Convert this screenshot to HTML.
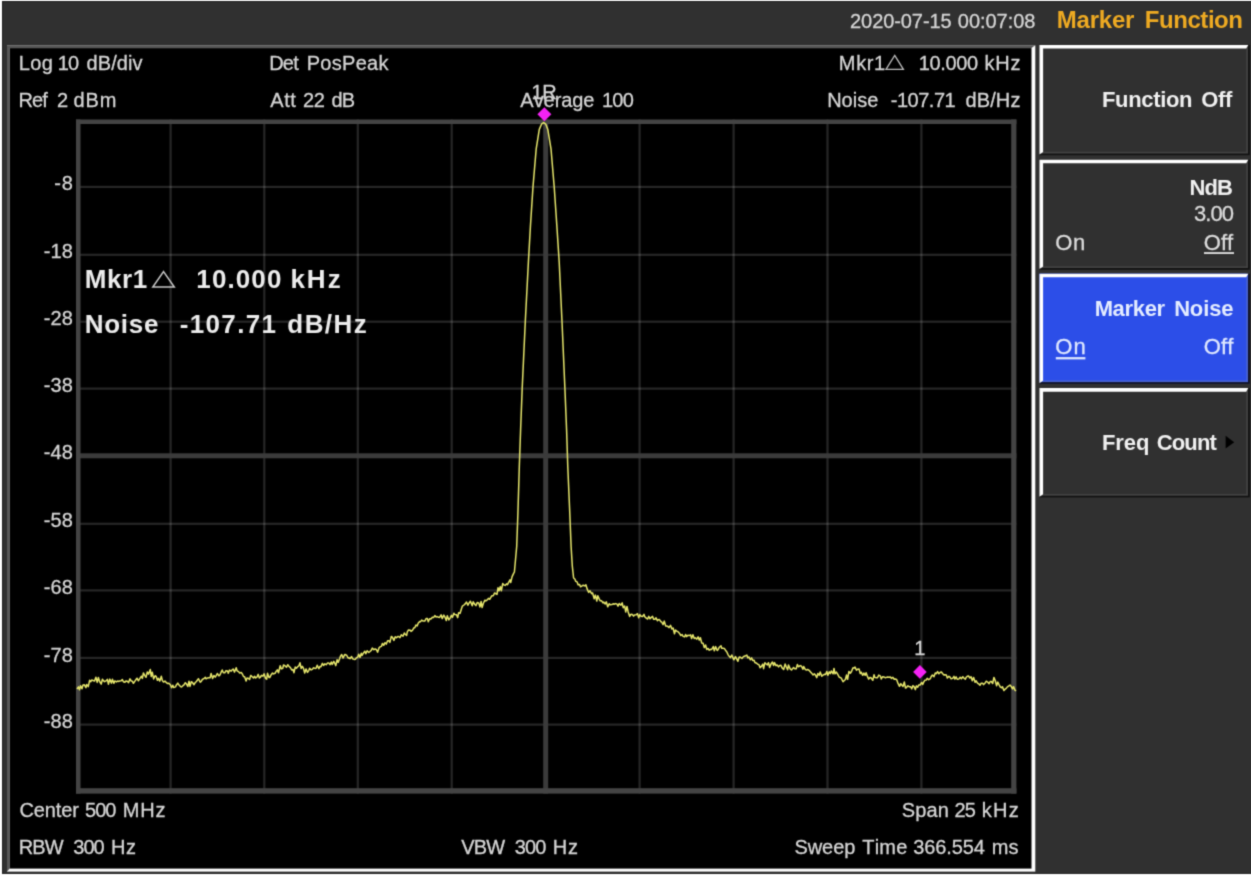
<!DOCTYPE html>
<html><head><meta charset="utf-8"><title>Spectrum Analyzer</title>
<style>
html,body{margin:0;padding:0;}
.t{position:absolute;white-space:pre;font-kerning:none;-webkit-text-stroke:0.3px;}
.b{font-weight:bold;-webkit-text-stroke:0;}
body{width:1251px;height:876px;position:relative;overflow:hidden;background:#fff;font-family:"Liberation Sans",sans-serif;}
#wrap{position:absolute;left:-10px;top:-10px;width:1271px;height:896px;filter:url(#soft);}
#in{position:absolute;left:10px;top:10px;width:1251px;height:876px;}
</style></head><body>
<svg width="0" height="0" style="position:absolute"><filter id="soft" x="0" y="0" width="100%" height="100%" color-interpolation-filters="sRGB"><feConvolveMatrix order="3" kernelMatrix="0.02768 0.11101 0.02768 0.11101 0.44521 0.11101 0.02768 0.11101 0.02768" edgeMode="duplicate" preserveAlpha="true"/></filter></svg>
<div id="wrap"><div id="in">
<svg width="1271" height="896" viewBox="-10 -10 1271 896" style="position:absolute;left:-10px;top:-10px">
<rect x="-10" y="-10" width="1271" height="896" fill="#ffffff"/>
<rect x="2" y="1" width="1259" height="873" fill="#212121"/>
<rect x="3" y="2" width="1258" height="871.6" fill="#303030"/>
<rect x="7.0" y="45.3" width="1028.3" height="826.3000000000001" fill="#ffffff"/>
<path d="M7.0 45.3 H1035.3 L1031.5 48.099999999999994 H9.8 V868.6 L7.0 871.6 Z" fill="#565656"/>
<rect x="9.8" y="48.099999999999994" width="1021.7" height="820.5000000000001" fill="#000000"/>
<rect x="169.5" y="119.5" width="2.2" height="674.1" fill="rgba(255,255,255,0.148)"/>
<rect x="263.2" y="119.5" width="2.2" height="674.1" fill="rgba(255,255,255,0.148)"/>
<rect x="356.7" y="119.5" width="2.2" height="674.1" fill="rgba(255,255,255,0.148)"/>
<rect x="450.59999999999997" y="119.5" width="2.2" height="674.1" fill="rgba(255,255,255,0.148)"/>
<rect x="638.5" y="119.5" width="2.2" height="674.1" fill="rgba(255,255,255,0.148)"/>
<rect x="732.5" y="119.5" width="2.2" height="674.1" fill="rgba(255,255,255,0.148)"/>
<rect x="826.4" y="119.5" width="2.2" height="674.1" fill="rgba(255,255,255,0.148)"/>
<rect x="920.3" y="119.5" width="2.2" height="674.1" fill="rgba(255,255,255,0.148)"/>
<rect x="76.0" y="185.8" width="940.4" height="2.2" fill="rgba(255,255,255,0.148)"/>
<rect x="76.0" y="253.70000000000002" width="940.4" height="2.2" fill="rgba(255,255,255,0.148)"/>
<rect x="76.0" y="320.59999999999997" width="940.4" height="2.2" fill="rgba(255,255,255,0.148)"/>
<rect x="76.0" y="387.5" width="940.4" height="2.2" fill="rgba(255,255,255,0.148)"/>
<rect x="76.0" y="522.6999999999999" width="940.4" height="2.2" fill="rgba(255,255,255,0.148)"/>
<rect x="76.0" y="589.3" width="940.4" height="2.2" fill="rgba(255,255,255,0.148)"/>
<rect x="76.0" y="656.8" width="940.4" height="2.2" fill="rgba(255,255,255,0.148)"/>
<rect x="76.0" y="723.5" width="940.4" height="2.2" fill="rgba(255,255,255,0.148)"/>
<rect x="543.2" y="119.5" width="5" height="674.1" fill="#3b3b3b"/>
<rect x="76.0" y="453.3" width="940.4" height="5" fill="#3b3b3b"/>
<rect x="76.0" y="119.5" width="940.4" height="4.5" fill="#444444"/>
<rect x="76.0" y="788.2" width="940.4" height="5.4" fill="#444444"/>
<rect x="76.0" y="119.5" width="4.5" height="674.1" fill="#444444"/>
<rect x="1011.1999999999999" y="119.5" width="5.2" height="674.1" fill="#444444"/>
<polyline points="77.0,689.0 78.5,686.9 79.5,689.7 80.6,685.8 82.0,688.7 83.0,684.9 84.4,684.8 85.9,687.7 86.7,684.5 88.3,686.6 89.6,680.3 90.8,681.7 91.7,680.0 93.0,680.5 94.5,681.0 95.9,677.2 97.2,682.4 98.4,677.4 99.6,681.5 101.2,684.1 102.4,679.2 103.4,680.7 104.6,681.7 106.4,680.6 107.4,679.4 108.4,684.2 109.8,679.1 111.5,683.1 112.4,679.3 113.9,683.3 114.8,680.9 116.5,681.9 117.6,681.0 118.4,681.4 119.6,681.1 121.2,680.7 122.3,679.6 123.4,681.7 124.9,682.3 125.9,680.9 127.2,681.2 128.5,682.6 130.0,678.9 131.3,681.0 132.4,681.3 133.4,683.3 134.6,681.6 135.9,679.7 137.0,678.2 138.4,680.8 139.9,678.4 141.4,676.2 142.4,678.4 143.4,672.9 144.7,675.3 146.0,677.3 147.3,671.9 148.5,674.2 150.3,669.4 151.2,676.5 152.3,672.2 153.6,678.9 155.1,675.7 156.3,676.7 157.4,680.3 158.5,678.4 159.8,681.1 161.3,676.3 162.4,680.6 163.5,682.0 165.0,681.1 166.2,682.4 167.6,683.6 168.8,683.3 170.4,684.8 171.6,687.7 172.8,685.2 173.7,687.6 175.5,686.9 176.2,685.3 177.8,683.1 178.8,684.8 180.5,686.6 181.5,687.0 182.9,685.7 184.0,684.8 185.3,682.7 186.5,684.1 187.8,686.5 189.0,681.2 190.0,686.4 191.3,681.7 192.6,682.7 194.0,684.7 195.2,682.6 196.4,681.5 197.5,680.0 198.5,678.7 200.2,682.3 201.2,681.4 202.3,679.5 203.8,678.7 205.3,677.3 206.1,678.8 207.6,677.9 209.0,677.7 210.1,677.8 211.1,673.4 212.6,678.5 213.9,675.6 215.2,677.1 216.2,675.6 217.3,673.5 218.9,675.9 220.1,674.7 221.0,672.4 222.2,670.0 223.4,672.8 224.8,672.8 226.0,670.7 227.5,670.9 228.3,673.2 229.5,670.1 231.2,671.1 232.3,669.6 233.2,669.0 234.5,672.1 236.2,667.7 237.1,670.8 238.6,671.6 239.7,673.1 241.2,672.4 242.5,674.2 243.5,676.5 244.6,676.8 246.1,681.0 247.0,678.1 248.5,678.4 249.6,679.5 250.7,675.4 252.2,676.7 253.5,678.0 254.5,676.3 255.7,678.0 257.0,677.0 258.2,674.4 259.4,678.0 260.5,677.1 261.4,675.4 262.9,676.2 264.1,673.8 265.5,678.3 266.7,679.2 267.5,673.3 269.0,677.5 269.7,677.6 271.2,674.7 272.5,673.0 273.5,673.9 275.2,673.2 276.1,671.4 277.3,669.9 278.5,672.7 280.2,665.7 281.4,668.9 282.8,668.3 283.5,665.0 284.9,665.7 286.4,667.3 287.8,664.7 288.9,666.3 290.4,667.6 291.7,670.0 293.0,669.5 294.0,672.7 295.2,667.1 296.4,668.2 297.9,666.6 298.8,665.9 300.0,662.8 301.2,668.5 302.4,666.4 303.5,668.4 304.7,673.1 306.0,668.9 307.5,672.4 308.8,670.6 309.6,668.2 311.2,669.9 312.5,669.2 313.4,667.8 315.0,668.4 316.1,668.2 317.2,665.3 318.9,668.6 319.9,666.5 321.0,666.8 322.4,663.4 323.6,665.5 324.7,663.8 326.2,664.7 327.6,662.9 328.7,662.9 330.0,664.6 331.3,662.0 332.2,664.4 333.8,661.3 335.0,663.8 335.8,665.6 337.1,659.7 338.2,662.4 339.8,658.2 340.6,655.9 341.7,654.6 343.0,658.1 344.7,654.6 345.4,654.6 346.8,655.5 348.1,658.0 349.0,657.8 350.1,658.6 351.6,656.5 352.6,658.8 354.2,659.4 355.5,659.2 356.1,658.1 357.9,656.8 358.7,654.3 360.0,657.4 361.3,653.3 362.1,655.4 363.4,653.1 364.8,651.2 365.8,653.7 367.1,650.8 368.8,652.5 370.0,651.5 371.2,650.4 372.3,648.1 373.9,649.7 375.1,649.0 376.3,649.5 377.6,652.2 379.0,647.9 380.2,646.8 381.4,646.4 382.4,643.5 383.7,645.3 385.0,642.7 386.3,644.1 387.6,640.8 388.8,640.7 389.9,642.4 391.3,636.4 392.5,637.4 393.9,640.4 395.2,636.7 396.4,637.8 397.8,636.6 398.6,636.5 400.0,637.6 401.3,634.7 403.0,636.2 404.3,633.0 405.2,634.3 406.6,635.5 407.3,631.8 408.5,630.0 410.3,630.2 411.0,631.4 412.4,630.4 413.9,627.8 414.8,627.7 415.9,625.0 417.1,626.0 418.3,623.0 419.7,621.6 420.6,621.7 421.7,620.1 423.2,621.1 424.8,621.1 426.1,618.6 427.4,618.6 428.3,621.7 429.6,618.8 430.9,619.1 432.4,617.3 433.7,617.4 434.9,615.6 436.1,617.0 437.2,616.6 438.6,617.3 439.6,617.4 441.1,614.8 442.2,618.6 443.8,615.1 444.9,616.9 446.3,620.6 447.3,615.7 448.9,619.9 450.1,618.1 451.4,615.4 452.5,617.3 453.9,613.3 454.8,614.6 456.5,614.7 457.7,617.6 458.6,612.8 460.0,613.4 461.4,609.0 462.4,606.1 464.0,605.0 465.4,603.6 466.5,602.0 467.9,605.2 469.1,603.0 470.4,601.2 472.2,605.7 473.2,601.8 474.9,604.5 475.9,605.6 477.2,602.6 478.7,602.9 480.0,606.9 481.1,601.4 482.1,607.6 483.3,603.5 484.9,600.2 485.9,600.9 487.0,600.1 488.5,598.4 489.7,599.3 490.9,597.2 491.9,595.8 493.3,595.8 494.5,593.0 495.6,593.5 497.0,594.4 498.0,587.8 499.1,590.8 500.3,586.6 501.4,590.7 502.7,583.6 503.9,584.9 505.1,585.4 506.5,583.9 507.5,584.7 508.5,582.7 510.0,579.9 510.7,582.5 512.1,576.6 513.5,573.6 514.4,572.0 516.7,546.5 517.9,513.5 519.3,467.0 520.6,430.0 522.2,388.4 525.3,321.5 528.4,262.0 530.5,225.0 533.0,186.7 536.2,148.8 539.3,129.4 541.5,124.2 543.6,122.6 545.8,124.2 547.8,129.4 551.0,148.8 554.2,186.7 556.8,225.0 559.2,262.0 562.0,321.5 564.9,388.4 566.6,430.0 567.8,467.0 569.8,513.5 571.1,546.5 572.3,566.0 573.6,578.0 574.8,579.0 575.8,581.4 577.1,581.9 578.1,584.8 579.6,584.5 580.5,586.8 582.1,585.9 583.2,585.2 584.8,585.9 585.9,584.7 587.2,589.1 588.7,592.4 590.0,590.8 591.6,593.6 592.6,593.0 594.2,598.8 595.4,595.1 596.8,601.0 597.8,595.7 599.2,598.9 600.2,600.8 601.6,600.8 603.0,602.9 603.8,602.1 605.2,604.0 606.3,601.8 607.7,606.8 609.3,603.7 610.2,604.7 611.8,604.5 613.2,603.8 614.1,604.2 615.4,603.6 616.9,604.0 618.0,606.1 619.2,603.5 620.9,605.2 622.2,602.9 623.2,607.7 624.7,606.0 625.7,612.0 627.0,606.4 628.1,611.7 629.7,616.4 630.7,614.4 631.9,614.2 633.6,616.1 634.4,615.0 636.0,614.8 637.5,613.7 638.7,617.7 639.9,614.6 641.1,616.2 642.5,616.5 644.0,614.3 644.7,616.6 646.3,618.2 647.6,619.0 648.8,616.4 650.0,618.8 650.8,617.9 652.6,616.4 653.6,619.2 654.9,619.2 656.0,617.8 657.4,620.7 658.2,619.7 659.4,619.6 661.0,621.8 661.7,622.0 663.1,624.6 664.3,621.1 665.7,626.1 666.8,626.0 668.3,626.7 669.0,627.6 670.5,625.4 671.9,628.9 673.1,628.0 674.5,633.7 675.5,630.0 676.8,631.1 678.2,631.9 679.4,633.2 680.8,635.5 682.1,634.5 683.1,636.4 684.6,636.9 685.6,634.5 686.7,636.6 687.9,635.3 689.2,635.6 690.6,634.8 691.6,638.5 692.9,634.8 694.3,638.5 695.3,637.8 696.8,639.1 698.1,636.8 699.2,640.1 700.4,637.7 701.7,643.0 703.1,643.3 704.3,647.6 705.6,645.0 706.7,649.4 708.1,648.5 709.3,650.2 710.7,649.3 711.6,649.5 713.3,646.5 714.3,650.8 715.6,646.6 717.2,650.5 718.2,649.4 719.3,647.2 721.0,645.7 721.7,648.2 723.0,648.3 724.3,648.4 725.9,650.9 726.6,651.5 728.3,655.1 729.2,656.2 730.4,657.6 731.8,655.0 733.1,658.1 733.8,659.8 735.5,656.6 736.4,658.4 737.9,661.3 739.1,657.3 740.1,657.0 741.9,658.5 743.2,656.9 744.3,656.2 745.6,655.7 746.9,655.1 747.7,657.8 749.0,657.0 750.3,659.8 751.6,657.9 752.7,660.5 754.1,660.2 754.9,662.5 756.7,663.3 757.7,664.2 758.9,664.6 760.1,667.7 761.2,666.6 762.8,664.1 763.6,668.7 764.9,662.7 766.2,664.0 767.4,664.9 768.5,662.7 769.6,667.4 771.2,663.6 772.4,662.0 773.6,665.4 774.5,662.6 776.0,665.7 777.2,665.0 778.6,666.9 779.7,665.4 780.9,665.3 782.1,667.9 783.7,669.5 785.1,664.1 786.0,666.3 787.6,669.8 788.5,665.0 790.2,668.9 791.5,670.0 792.2,669.1 793.6,667.6 794.7,668.8 796.2,668.8 797.4,664.5 798.5,666.8 800.2,665.6 801.5,666.2 802.9,669.2 803.7,666.5 805.4,669.6 806.6,670.1 807.6,669.5 809.2,670.4 810.6,672.1 811.4,672.9 813.1,675.0 814.3,673.9 815.3,674.8 816.8,677.7 817.8,673.4 819.2,675.4 820.2,672.0 821.8,676.2 822.7,675.3 824.3,674.3 825.6,674.6 826.8,671.4 827.9,675.2 829.3,671.9 830.4,673.6 831.3,670.9 833.1,673.8 834.0,668.4 835.0,673.8 836.4,672.0 837.9,674.6 839.2,677.1 840.1,677.5 841.3,678.1 843.0,681.8 844.0,680.7 845.4,679.5 846.5,675.1 847.6,679.3 848.9,671.4 850.3,673.2 851.5,671.5 853.0,667.8 854.3,667.9 855.0,667.1 856.5,670.3 857.5,669.2 859.1,669.1 860.3,673.5 861.2,672.2 862.7,675.3 863.9,673.1 865.2,675.3 866.1,672.8 867.3,676.1 868.7,679.1 870.0,677.5 871.0,677.8 872.8,680.3 874.0,674.8 874.9,677.4 876.1,677.8 877.5,677.7 878.8,675.1 880.2,675.8 881.3,679.0 882.6,676.7 884.2,677.0 885.4,677.8 886.4,677.4 887.6,677.0 889.0,677.3 890.4,677.1 891.5,678.4 892.9,677.4 894.2,679.2 895.1,679.0 896.6,679.4 897.7,682.6 899.5,686.3 900.8,683.6 902.0,685.2 903.0,686.4 904.3,682.0 905.5,688.0 906.5,687.5 907.9,685.8 909.1,686.7 910.5,686.7 911.8,688.9 912.8,685.7 913.9,686.4 915.4,689.6 916.3,685.9 917.7,687.2 918.8,684.9 920.1,685.0 921.7,682.5 922.7,684.5 923.8,681.9 924.8,680.3 926.2,680.1 927.2,678.3 928.7,679.7 930.3,678.7 931.2,676.5 932.4,675.0 934.0,676.6 935.3,672.9 936.3,673.6 937.6,671.6 938.9,673.8 940.4,672.3 941.4,671.9 942.5,673.5 943.9,674.9 944.8,674.8 946.4,675.1 947.3,678.1 948.9,676.3 950.1,677.2 951.1,678.8 952.6,678.4 954.0,676.4 954.8,679.1 956.1,676.9 957.2,679.2 958.8,679.1 960.2,677.3 961.4,678.8 962.8,676.7 963.8,678.0 965.3,679.2 966.3,677.2 967.3,676.3 968.5,676.0 969.9,678.0 971.1,676.7 972.3,680.7 973.6,677.5 975.1,682.2 976.2,680.8 977.5,683.1 978.9,684.0 980.0,685.3 981.2,683.2 982.5,683.3 983.6,684.6 985.1,683.0 986.3,681.2 987.5,682.0 989.1,683.6 990.2,681.5 991.3,681.5 992.7,683.5 993.9,677.4 995.3,680.8 996.6,685.8 997.8,682.1 998.9,684.3 1000.4,687.1 1001.7,687.7 1002.5,686.7 1003.9,690.6 1005.1,689.2 1006.2,688.4 1007.4,686.9 1008.5,686.2 1010.0,685.1 1011.2,686.4 1012.5,688.9 1013.6,686.7 1015.0,690.2 1016.0,691.0" fill="none" stroke="#e6e66c" stroke-width="1.5" stroke-linejoin="round"/>
<path d="M544.4 107.2 L551.4 114.2 L544.4 121.2 L537.4 114.2 Z" fill="#f322f3"/>
<path d="M919.9 665.1 L926.6999999999999 671.9 L919.9 678.6999999999999 L913.1 671.9 Z" fill="#f322f3"/>
<rect x="1039.5" y="44.9" width="210.29999999999995" height="110.29999999999998" fill="#121212"/>
<rect x="1039.5" y="44.9" width="208.5" height="108.6" fill="#424242"/>
<rect x="1039.5" y="44.9" width="206.70000000000005" height="106.89999999999998" fill="#303030"/>
<path d="M1039.5 44.9 H1248.3 L1246.2 48.5 H1043.1 V152.0 L1039.5 154.6 Z" fill="#ffffff"/>
<rect x="1039.5" y="159.7" width="210.29999999999995" height="110.0" fill="#121212"/>
<rect x="1039.5" y="159.7" width="208.5" height="108.30000000000001" fill="#424242"/>
<rect x="1039.5" y="159.7" width="206.70000000000005" height="106.60000000000002" fill="#303030"/>
<path d="M1039.5 159.7 H1248.3 L1246.2 163.29999999999998 H1043.1 V266.5 L1039.5 269.09999999999997 Z" fill="#ffffff"/>
<rect x="1039.5" y="273.7" width="210.29999999999995" height="110.10000000000002" fill="#10122a"/>
<rect x="1039.5" y="273.7" width="208.5" height="108.40000000000003" fill="#4862d0"/>
<rect x="1039.5" y="273.7" width="206.70000000000005" height="106.70000000000005" fill="#2c4ee8"/>
<path d="M1039.5 273.7 H1248.3 L1246.2 277.3 H1043.1 V380.6 L1039.5 383.2 Z" fill="#ffffff"/>
<rect x="1039.5" y="388.1" width="210.29999999999995" height="109.29999999999995" fill="#121212"/>
<rect x="1039.5" y="388.1" width="208.5" height="107.59999999999997" fill="#424242"/>
<rect x="1039.5" y="388.1" width="206.70000000000005" height="105.89999999999998" fill="#303030"/>
<path d="M1039.5 388.1 H1248.3 L1246.2 391.70000000000005 H1043.1 V494.2 L1039.5 496.79999999999995 Z" fill="#ffffff"/>
<path d="M1225.6 435.8 L1234.2 442.2 L1225.6 448.6 Z" fill="#000"/>
<path d="M894.7 55.4 L903.4 69.3 L886.0 69.3 Z" fill="none" stroke="#bdbdbd" stroke-width="1.3" stroke-linejoin="miter"/>
<path d="M163.55 271.6 L174.3 287.0 L152.8 287.0 Z" fill="none" stroke="#c8c8c8" stroke-width="1.5" stroke-linejoin="miter"/>
</svg>
<svg width="1251" height="876" viewBox="0 0 1251 876" style="position:absolute;left:0;top:0;pointer-events:none">
<rect x="1204.0" y="252.1" width="30" height="1.9" fill="#dcdcdc"/>
<rect x="1055.8" y="357.1" width="29.6" height="2.3" fill="#dfe8ff"/>
</svg>
<div style="position:absolute;left:0;top:0;width:1251px;height:876px;">
<div class="t" style="top:11px;left:850.09px;font-size:20px;line-height:20px;color:#d6d6d6;letter-spacing:-0.084px;">2020-07-15</div>
<div class="t" style="top:11px;left:957.82px;font-size:20px;line-height:20px;color:#d6d6d6;letter-spacing:-0.043px;">00:07:08</div>
<div class="t b" style="top:8px;left:1056.69px;font-size:24px;line-height:24px;color:#eeaa22;letter-spacing:-0.189px;">Marker</div>
<div class="t b" style="top:8px;left:1144.79px;font-size:24px;line-height:24px;color:#eeaa22;letter-spacing:-0.445px;">Function</div>
<div class="t" style="top:53px;left:18.76px;font-size:20px;line-height:20px;color:#d6d6d6;letter-spacing:0.380px;">Log</div>
<div class="t" style="top:53px;left:57.76px;font-size:20px;line-height:20px;color:#d6d6d6;letter-spacing:-0.900px;">10</div>
<div class="t" style="top:53px;left:86.56px;font-size:20px;line-height:20px;color:#d6d6d6;letter-spacing:0.084px;">dB/div</div>
<div class="t" style="top:90px;left:18.50px;font-size:20px;line-height:20px;color:#d6d6d6;letter-spacing:-0.900px;">Ref</div>
<div class="t" style="top:90px;left:56.99px;font-size:20px;line-height:20px;color:#d6d6d6;letter-spacing:0.000px;">2</div>
<div class="t" style="top:90px;left:73.56px;font-size:20px;line-height:20px;color:#d6d6d6;letter-spacing:0.868px;">dBm</div>
<div class="t" style="top:53px;left:269.16px;font-size:20px;line-height:20px;color:#d6d6d6;letter-spacing:-0.768px;">Det</div>
<div class="t" style="top:53px;left:306.76px;font-size:20px;line-height:20px;color:#d6d6d6;letter-spacing:0.277px;">PosPeak</div>
<div class="t" style="top:90px;left:270.36px;font-size:20px;line-height:20px;color:#d6d6d6;letter-spacing:0.466px;">Att</div>
<div class="t" style="top:90px;left:302.99px;font-size:20px;line-height:20px;color:#d6d6d6;letter-spacing:-0.334px;">22</div>
<div class="t" style="top:90px;left:331.48px;font-size:20px;line-height:20px;color:#d6d6d6;letter-spacing:-0.900px;">dB</div>
<div class="t" style="top:90px;left:520.36px;font-size:20px;line-height:20px;color:#d6d6d6;letter-spacing:-0.061px;">Average</div>
<div class="t" style="top:90px;left:601.88px;font-size:20px;line-height:20px;color:#d6d6d6;letter-spacing:-0.682px;">100</div>
<div class="t" style="top:82px;left:531.58px;font-size:20px;line-height:20px;color:#d6d6d6;letter-spacing:-0.415px;">1R</div>
<div class="t" style="top:53px;left:838.86px;font-size:20px;line-height:20px;color:#d6d6d6;letter-spacing:0.625px;">Mkr1</div>
<div class="t" style="top:53px;left:918.78px;font-size:20px;line-height:20px;color:#d6d6d6;letter-spacing:-0.353px;">10.000</div>
<div class="t" style="top:53px;left:984.45px;font-size:20px;line-height:20px;color:#d6d6d6;letter-spacing:0.750px;">kHz</div>
<div class="t" style="top:90px;left:827.16px;font-size:20px;line-height:20px;color:#d6d6d6;letter-spacing:0.024px;">Noise</div>
<div class="t" style="top:90px;left:890.81px;font-size:20px;line-height:20px;color:#d6d6d6;letter-spacing:-0.494px;">-107.71</div>
<div class="t" style="top:90px;left:965.56px;font-size:20px;line-height:20px;color:#d6d6d6;letter-spacing:0.093px;">dB/Hz</div>
<div class="t" style="top:800px;left:19.38px;font-size:20px;line-height:20px;color:#d6d6d6;letter-spacing:-0.096px;">Center</div>
<div class="t" style="top:800px;left:84.91px;font-size:20px;line-height:20px;color:#d6d6d6;letter-spacing:-0.900px;">500</div>
<div class="t" style="top:800px;left:122.66px;font-size:20px;line-height:20px;color:#d6d6d6;letter-spacing:0.867px;">MHz</div>
<div class="t" style="top:837px;left:18.78px;font-size:20px;line-height:20px;color:#d6d6d6;letter-spacing:-0.900px;">RBW</div>
<div class="t" style="top:837px;left:73.18px;font-size:20px;line-height:20px;color:#d6d6d6;letter-spacing:-0.900px;">300</div>
<div class="t" style="top:837px;left:111.06px;font-size:20px;line-height:20px;color:#d6d6d6;letter-spacing:0.593px;">Hz</div>
<div class="t" style="top:837px;left:461.31px;font-size:20px;line-height:20px;color:#d6d6d6;letter-spacing:-0.850px;">VBW</div>
<div class="t" style="top:837px;left:514.73px;font-size:20px;line-height:20px;color:#d6d6d6;letter-spacing:-0.900px;">300</div>
<div class="t" style="top:837px;left:552.66px;font-size:20px;line-height:20px;color:#d6d6d6;letter-spacing:0.993px;">Hz</div>
<div class="t" style="top:800px;left:901.79px;font-size:20px;line-height:20px;color:#d6d6d6;letter-spacing:0.099px;">Span</div>
<div class="t" style="top:800px;left:954.44px;font-size:20px;line-height:20px;color:#d6d6d6;letter-spacing:-0.900px;">25</div>
<div class="t" style="top:800px;left:981.85px;font-size:20px;line-height:20px;color:#d6d6d6;letter-spacing:1.250px;">kHz</div>
<div class="t" style="top:837px;left:794.49px;font-size:20px;line-height:20px;color:#d6d6d6;letter-spacing:-0.076px;">Sweep</div>
<div class="t" style="top:837px;left:862.25px;font-size:20px;line-height:20px;color:#d6d6d6;letter-spacing:0.232px;">Time</div>
<div class="t" style="top:837px;left:913.14px;font-size:20px;line-height:20px;color:#d6d6d6;letter-spacing:-0.075px;">366.554</div>
<div class="t" style="top:837px;left:991.87px;font-size:20px;line-height:20px;color:#d6d6d6;letter-spacing:-0.009px;">ms</div>
<div class="t" style="top:173px;left:54.31px;font-size:20px;line-height:20px;color:#d6d6d6;letter-spacing:0.875px;">-8</div>
<div class="t" style="top:241px;left:43.71px;font-size:20px;line-height:20px;color:#d6d6d6;letter-spacing:0.176px;">-18</div>
<div class="t" style="top:308px;left:43.71px;font-size:20px;line-height:20px;color:#d6d6d6;letter-spacing:0.176px;">-28</div>
<div class="t" style="top:375px;left:43.71px;font-size:20px;line-height:20px;color:#d6d6d6;letter-spacing:0.176px;">-38</div>
<div class="t" style="top:442px;left:43.71px;font-size:20px;line-height:20px;color:#d6d6d6;letter-spacing:0.176px;">-48</div>
<div class="t" style="top:510px;left:43.71px;font-size:20px;line-height:20px;color:#d6d6d6;letter-spacing:0.176px;">-58</div>
<div class="t" style="top:577px;left:43.71px;font-size:20px;line-height:20px;color:#d6d6d6;letter-spacing:0.176px;">-68</div>
<div class="t" style="top:645px;left:43.71px;font-size:20px;line-height:20px;color:#d6d6d6;letter-spacing:0.176px;">-78</div>
<div class="t" style="top:711px;left:43.71px;font-size:20px;line-height:20px;color:#d6d6d6;letter-spacing:0.176px;">-88</div>
<div class="t" style="top:638px;left:914.18px;font-size:20px;line-height:20px;color:#d6d6d6;letter-spacing:0.000px;">1</div>
<div class="t b" style="top:266px;left:84.76px;font-size:26px;line-height:26px;color:#ececec;letter-spacing:0.556px;">Mkr1</div>
<div class="t b" style="top:266px;left:196.36px;font-size:26px;line-height:26px;color:#ececec;letter-spacing:1.096px;">10.000</div>
<div class="t b" style="top:266px;left:290.38px;font-size:26px;line-height:26px;color:#ececec;letter-spacing:2.009px;">kHz</div>
<div class="t b" style="top:311px;left:84.76px;font-size:26px;line-height:26px;color:#ececec;letter-spacing:0.732px;">Noise</div>
<div class="t b" style="top:311px;left:179.68px;font-size:26px;line-height:26px;color:#ececec;letter-spacing:1.360px;">-107.71</div>
<div class="t b" style="top:311px;left:287.33px;font-size:26px;line-height:26px;color:#ececec;letter-spacing:1.437px;">dB/Hz</div>
<div class="t b" style="top:89px;left:1101.93px;font-size:22px;line-height:22px;color:#f0f0f0;letter-spacing:-0.319px;">Function</div>
<div class="t b" style="top:89px;left:1201.20px;font-size:22px;line-height:22px;color:#f0f0f0;letter-spacing:-0.353px;">Off</div>
<div class="t b" style="top:177px;left:1189.46px;font-size:22px;line-height:22px;color:#f0f0f0;letter-spacing:-0.900px;">NdB</div>
<div class="t" style="top:203px;left:1193.95px;font-size:22px;line-height:22px;color:#dcdcdc;letter-spacing:-0.900px;">3.00</div>
<div class="t" style="top:232px;left:1055.36px;font-size:22px;line-height:22px;color:#dcdcdc;letter-spacing:0.623px;">On</div>
<div class="t" style="top:232px;left:1203.76px;font-size:22px;line-height:22px;color:#dcdcdc;letter-spacing:0.036px;">Off</div>
<div class="t b" style="top:298px;left:1094.63px;font-size:22px;line-height:22px;color:#e4ecff;letter-spacing:-0.330px;">Marker</div>
<div class="t b" style="top:298px;left:1174.13px;font-size:22px;line-height:22px;color:#e4ecff;letter-spacing:-0.146px;">Noise</div>
<div class="t" style="top:336px;left:1055.26px;font-size:22px;line-height:22px;color:#dfe8ff;letter-spacing:1.123px;">On</div>
<div class="t" style="top:336px;left:1203.76px;font-size:22px;line-height:22px;color:#dfe8ff;letter-spacing:0.086px;">Off</div>
<div class="t b" style="top:432px;left:1101.93px;font-size:22px;line-height:22px;color:#f0f0f0;letter-spacing:-0.043px;">Freq</div>
<div class="t b" style="top:432px;left:1156.82px;font-size:22px;line-height:22px;color:#f0f0f0;letter-spacing:-0.900px;">Count</div>
</div>
</div></div>
</body></html>
